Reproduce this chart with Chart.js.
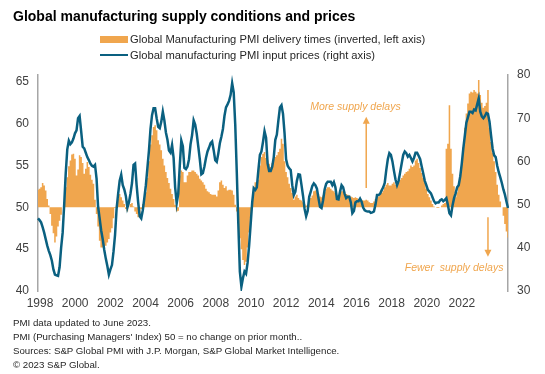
<!DOCTYPE html>
<html>
<head>
<meta charset="utf-8">
<script src="https://cdn.jsdelivr.net/npm/chart.js@4.4.0/dist/chart.umd.min.js"></script>
<style>
  body { margin: 0; background: #fff; font-family: 'Liberation Sans', Arial, sans-serif; }
  #wrap { position: relative; width: 545px; height: 374px; overflow: hidden; }
  #chart { position: absolute; left: 0; top: 0; }
  .title { position: absolute; left: 13px; top: 8px; font-size: 14px; font-weight: bold; color: #000; white-space: nowrap; }
  .legend { position: absolute; left: 100px; font-size: 11.2px; color: #262626; white-space: nowrap; line-height: 14px; }
  .legend .sw { display: inline-block; width: 28px; vertical-align: middle; margin-right: 2px; position: relative; top: -1px; }
  .notes { position: absolute; left: 13px; top: 316px; font-size: 9.7px; line-height: 14px; color: #262626; white-space: nowrap; }
</style>
</head>
<body>
<div id="wrap">
  <canvas id="chart" width="545" height="374"></canvas>
  <div class="title">Global manufacturing supply conditions and prices</div>
  <div class="legend" style="top:32px"><span class="sw" style="height:7px;background:#F0A64E"></span>Global Manufacturing PMI delivery times (inverted, left axis)</div>
  <div class="legend" style="top:48px"><span class="sw" style="height:2.5px;background:#0A6080"></span>Global manufacturing PMI input prices (right axis)</div>
  <div class="notes">
    PMI data updated to June 2023.<br>
    PMI (Purchasing Managers' Index) 50 = no change on prior month..<br>
    Sources: S&amp;P Global PMI with J.P. Morgan, S&amp;P Global Market Intelligence.<br>
    © 2023 S&amp;P Global.
  </div>
</div>
<script>
// monthly, Jan 1998 .. Jun 2023
const startYear = 1998;
const monthCount = 306;
const months = [];
for (let i = 0; i < monthCount; i++) {
  const y = startYear + Math.floor(i / 12);
  const m = (i % 12) + 1;
  months.push(y + '-' + String(m).padStart(2, '0'));
}

const yearTicks = ['1998', '2000', '2002', '2004', '2006', '2008', '2010',
  '2012', '2014', '2016', '2018', '2020', '2022'];
const leftTicks = [40, 45, 50, 55, 60, 65];
const rightTicks = [30, 40, 50, 60, 70, 80];

// delivery times index (inverted), left axis
const deliveryTimes = [
  52.1, 52.2, 52.4, 52.9, 52.6, 52.0, 51.0, 50.2, 49.2, 47.8, 46.9, 45.8,
  46.5, 47.7, 48.4, 49.1, 50.0, 50.6, 52.4, 53.6, 54.9, 55.6, 56.3, 56.4,
  55.8, 53.8, 54.5, 56.2, 56.0, 55.3, 54.0, 54.6, 55.4, 54.8, 53.9, 53.3,
  52.8, 50.9, 49.2, 47.7, 46.0, 45.2, 45.2, 45.1, 45.4, 45.8, 46.2, 47.0,
  47.5, 48.7, 49.9, 50.2, 51.0, 51.6, 51.2, 50.8, 50.4, 49.8, 49.5, 50.0,
  50.4, 50.5, 50.1, 49.5, 49.2, 48.8, 49.0, 49.8, 50.4, 51.0, 51.8, 53.5,
  55.5, 57.5, 58.6, 59.6, 59.8, 59.2, 58.0, 57.5, 56.8, 55.8, 55.0, 54.2,
  53.5, 52.9, 52.2, 51.6, 51.0, 50.3, 49.5, 49.6, 53.8, 54.4, 54.2, 53.0,
  53.0, 53.8, 54.2, 54.2, 54.4, 54.4, 54.2, 54.0, 53.8, 53.4, 53.2, 53.0,
  52.7, 52.2, 51.9, 51.8, 51.6, 51.5, 51.5, 51.5, 51.3, 52.0, 53.0, 53.2,
  52.7, 52.3, 52.5, 52.0, 52.1, 52.1, 52.0, 51.5, 50.3, 49.5, 48.5, 46.3,
  45.0, 43.7, 43.1, 43.5, 45.2, 47.0, 48.7, 50.5, 52.3, 53.0, 53.0, 53.3,
  55.0, 56.0, 56.4, 56.6, 55.9, 55.6, 55.2, 54.8, 55.3, 55.8, 56.0, 56.2,
  56.6, 57.0, 58.2, 57.6, 55.5, 54.2, 53.6, 52.8, 52.3, 51.7, 50.9, 51.3,
  51.5, 51.1, 50.9, 50.8, 50.6, 50.4, 50.2, 50.2, 50.7, 51.1, 51.4, 51.9,
  52.0, 51.8, 51.6, 51.3, 51.2, 51.4, 51.8, 52.2, 52.4, 52.4, 52.2, 52.0,
  51.9, 51.7, 51.5, 51.4, 51.7, 51.9, 51.9, 51.7, 51.6, 51.5, 51.4, 51.3,
  51.2, 51.1, 51.2, 51.1, 51.0, 51.1, 50.9, 50.8, 50.8, 50.9, 50.8, 50.6,
  50.5, 50.5, 50.7, 51.0, 51.3, 51.3, 51.5, 51.7, 52.0, 52.4, 52.7, 52.9,
  52.6, 52.6, 52.8, 53.0, 52.7, 52.6, 53.0, 53.3, 53.5, 53.8, 54.0, 54.2,
  54.3, 54.6, 55.0, 54.8, 55.0, 55.6, 55.8, 55.3, 54.7, 54.1, 53.5, 52.9,
  52.2, 51.6, 51.2, 50.8, 50.4, 50.1, 50.0, 49.9, 49.9, 50.0, 50.2, 50.4,
  50.5, 57.0, 57.6, 62.2, 57.0, 54.0, 52.5, 51.2, 51.8, 52.7, 53.8, 55.4,
  57.2, 59.5, 61.2, 62.4, 63.6, 63.8, 63.7, 64.0, 63.8, 63.6, 65.2, 63.4,
  62.5, 61.9, 62.1, 62.5, 64.0, 59.5, 57.8, 56.5, 55.5, 54.2, 52.7, 51.5,
  50.7, 50.0, 49.0, 48.0, 47.1, 46.4
];

// input prices index, right axis
const inputPrices = [
  46.8, 46.4, 45.9, 44.8, 43.5, 42.0, 40.5, 39.3, 38.3, 37.0, 35.0, 33.8,
  33.6, 33.5, 35.5, 40.0, 43.5, 50.0, 57.3, 62.8, 64.8, 64.0, 64.4, 65.3,
  66.5, 67.2, 70.0, 70.5, 67.0, 63.4, 63.0, 62.0, 61.0, 60.3, 59.5, 59.0,
  58.8, 59.2, 56.0, 49.5, 46.8, 44.0, 42.0, 39.5, 37.5, 35.8, 33.8, 35.0,
  36.0, 39.1, 43.0, 49.0, 52.5, 55.5, 56.9, 54.5, 53.5, 52.0, 49.3, 50.5,
  52.5, 55.0, 59.2, 59.5, 54.5, 50.5, 47.3, 46.8, 48.7, 51.5, 54.5, 58.5,
  62.5, 67.5, 70.7, 72.3, 72.3, 70.0, 68.0, 67.7, 69.2, 71.5, 69.5, 66.7,
  65.0, 62.5, 62.0, 63.8, 60.8, 54.0, 50.3, 52.5, 59.0, 64.8, 63.5, 58.5,
  58.2, 58.8, 60.5, 64.0, 66.1, 69.5, 68.5, 66.4, 63.5, 60.5, 57.0, 57.3,
  58.8, 60.8, 62.3, 63.2, 64.2, 64.6, 62.6, 60.3, 59.9, 61.8, 64.2, 65.7,
  67.5, 70.5, 72.5, 73.2, 74.0, 75.4, 78.1, 76.0, 68.5, 57.5, 45.5, 34.5,
  31.0, 33.0, 34.5, 34.0, 36.5, 40.5, 45.5, 50.5, 53.8, 53.4, 54.0, 58.0,
  61.5, 62.3, 64.5, 67.0, 65.5, 59.5, 57.8, 57.8, 58.8, 61.0, 65.0, 66.2,
  69.5, 72.5, 73.0, 71.0, 66.5, 60.5, 59.0, 58.4, 58.0, 54.5, 52.2, 53.0,
  55.5, 57.0, 56.9, 54.5, 52.0, 49.0, 47.3, 48.5, 51.8, 53.0, 54.3, 54.9,
  54.5, 53.7, 51.5, 49.5, 49.2, 51.0, 53.5, 54.8, 55.3, 55.3, 55.3, 54.5,
  55.2, 54.0, 51.3, 51.2, 53.0, 54.5, 54.0, 52.5, 51.5, 51.8, 51.8, 50.5,
  48.0, 48.5, 50.5, 50.8, 50.8, 51.4, 50.7, 49.3, 48.7, 48.5, 48.4, 48.4,
  48.1, 48.2, 48.4, 50.0, 52.2, 52.2, 52.5, 53.3, 54.0, 55.0, 58.0, 60.5,
  61.9, 61.5, 60.0, 57.8, 55.8, 54.5, 55.5, 57.5, 59.5, 61.5, 62.3, 61.9,
  61.1, 61.5, 60.8, 60.0, 60.8, 62.0, 62.0, 61.3, 60.5, 58.8, 57.2, 55.5,
  54.5, 53.4, 53.0, 52.6, 51.7, 50.8, 50.3, 50.5, 50.5, 51.0, 51.2, 50.8,
  51.1, 51.5, 49.9, 48.0, 47.5, 49.8, 51.5, 52.6, 54.0, 54.5, 56.5, 59.5,
  63.0, 66.0, 69.0, 70.2, 71.5, 71.5, 71.2, 72.0, 71.8, 73.2, 74.6, 71.5,
  70.4, 70.0, 70.5, 71.2, 71.0, 69.2, 66.0, 63.0, 61.4, 61.0, 59.0, 57.5,
  56.3, 55.0, 53.5, 52.3, 50.7, 49.2
];

const ORANGE = '#F0A64E';
const TEAL = '#0A6080';
const FONT = "'Liberation Sans', Arial, sans-serif";

// arrows + labels, in data coordinates (month index, left-axis value)
const notes = [
  { text: 'More supply delays', tx: 206, ty: 62.0, ax: 213, from: 52.3, to: 60.8 },
  { text: 'Fewer  supply delays', tx: 270, ty: 42.7, ax: 292, from: 48.8, to: 44.1 }
];

const notesPlugin = {
  id: 'notes',
  afterDatasetsDraw(chart) {
    const { ctx, scales } = chart;
    const x = scales.x, y = scales.yLeft;
    ctx.save();
    ctx.fillStyle = ORANGE;
    ctx.strokeStyle = ORANGE;
    ctx.lineWidth = 1.5;
    ctx.font = 'italic 10.5px ' + FONT;
    ctx.textAlign = 'center';
    ctx.textBaseline = 'middle';
    notes.forEach(n => {
      ctx.fillText(n.text, x.getPixelForValue(n.tx), y.getPixelForValue(n.ty));
      const ax = x.getPixelForValue(n.ax);
      const y0 = y.getPixelForValue(n.from);
      const y1 = y.getPixelForValue(n.to);
      const dir = y1 < y0 ? 1 : -1;
      ctx.beginPath();
      ctx.moveTo(ax, y0);
      ctx.lineTo(ax, y1 + dir * 6);
      ctx.stroke();
      ctx.beginPath();
      ctx.moveTo(ax, y1);
      ctx.lineTo(ax - 3.5, y1 + dir * 7);
      ctx.lineTo(ax + 3.5, y1 + dir * 7);
      ctx.closePath();
      ctx.fill();
    });
    ctx.restore();
  }
};

const tickFont = { family: FONT, size: 12 };

new Chart(document.getElementById('chart'), {
  type: 'line',
  data: {
    labels: months,
    datasets: [
      {
        label: 'Global manufacturing PMI input prices (right axis)',
        data: inputPrices,
        yAxisID: 'yRight',
        borderColor: TEAL,
        borderWidth: 2.5,
        pointRadius: 0,
        tension: 0,
        fill: false,
        order: 0
      },
      {
        label: 'Global Manufacturing PMI delivery times (inverted, left axis)',
        data: deliveryTimes,
        yAxisID: 'yLeft',
        borderWidth: 0,
        borderColor: ORANGE,
        backgroundColor: ORANGE,
        pointRadius: 0,
        stepped: 'middle',
        fill: { value: 50 },
        order: 1
      }
    ]
  },
  options: {
    responsive: false,
    animation: false,
    layout: { padding: { top: 75, bottom: 63, left: 0, right: 0 } },
    plugins: { legend: { display: false }, tooltip: { enabled: false } },
    scales: {
      x: {
        type: 'category',
        display: false
      },
      // year labels sit a little tighter than the monthly data, as in the source chart
      years: {
        type: 'linear',
        position: 'bottom',
        min: 1997.886,
        max: 2024.62,
        grid: { display: false, drawTicks: false },
        border: { display: false },
        afterBuildTicks: s => { s.ticks = yearTicks.map(t => ({ value: Number(t) })); },
        afterFit: s => { s.height = 20; },
        ticks: {
          maxRotation: 0,
          autoSkip: false,
          padding: 5,
          color: '#404040',
          font: tickFont,
          callback: v => String(v)
        }
      },
      yLeft: {
        position: 'left',
        min: 40,
        max: 65.8,
        afterBuildTicks: s => { s.ticks = leftTicks.map(v => ({ value: v })); },
        afterFit: s => { s.width = 38; },
        grid: { display: false, drawTicks: false },
        border: { display: true, color: '#A6A6A6', width: 1.5 },
        ticks: { padding: 9, color: '#404040', font: tickFont }
      },
      yRight: {
        position: 'right',
        min: 30,
        max: 80,
        afterBuildTicks: s => { s.ticks = rightTicks.map(v => ({ value: v })); },
        afterFit: s => { s.width = 37; },
        grid: { display: false, drawTicks: false },
        border: { display: true, color: '#A6A6A6', width: 1.5 },
        ticks: { padding: 9, color: '#404040', font: tickFont }
      }
    }
  },
  plugins: [notesPlugin]
});
</script>
</body>
</html>
